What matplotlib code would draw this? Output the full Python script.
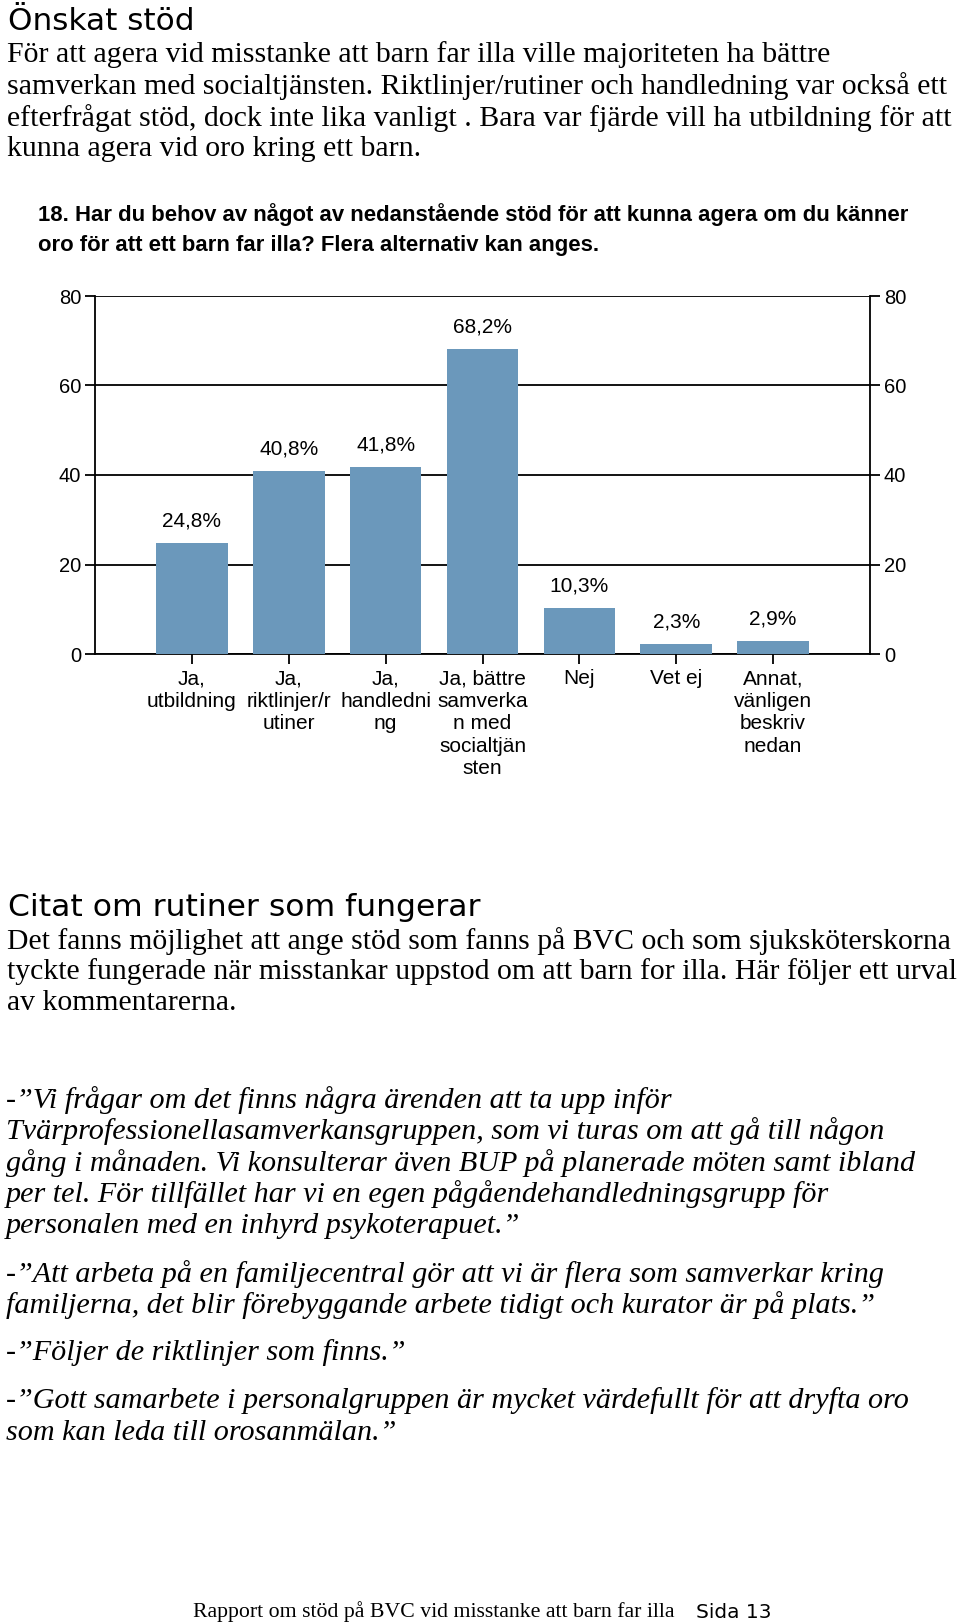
import matplotlib
matplotlib.use("Agg")
import matplotlib.pyplot as plt

# chart data
categories = ["Ja,\nutbildning", "Ja,\nriktlinjer/r\nutiner", "Ja,\nhandledni\nng",
              "Ja, bättre\nsamverka\nn med\nsocialtjän\nsten", "Nej", "Vet ej",
              "Annat,\nvänligen\nbeskriv\nnedan"]
values = [24.8, 40.8, 41.8, 68.2, 10.3, 2.3, 2.9]
value_labels = ["24,8%", "40,8%", "41,8%", "68,2%", "10,3%", "2,3%", "2,9%"]
yticks = [0, 20, 40, 60, 80]

heading1 = "Önskat stöd"
body1 = ["För att agera vid misstanke att barn far illa ville majoriteten ha bättre",
         "samverkan med socialtjänsten. Riktlinjer/rutiner och handledning var också ett",
         "efterfrågat stöd, dock inte lika vanligt . Bara var fjärde vill ha utbildning för att",
         "kunna agera vid oro kring ett barn."]
chart_title = ["18. Har du behov av något av nedanstående stöd för att kunna agera om du känner",
               "oro för att ett barn far illa? Flera alternativ kan anges."]
heading2 = "Citat om rutiner som fungerar"
body2 = ["Det fanns möjlighet att ange stöd som fanns på BVC och som sjuksköterskorna",
         "tyckte fungerade när misstankar uppstod om att barn for illa. Här följer ett urval",
         "av kommentarerna."]
quotes = [
    ["-”Vi frågar om det finns några ärenden att ta upp inför",
     "Tvärprofessionellasamverkansgruppen, som vi turas om att gå till någon",
     "gång i månaden. Vi konsulterar även BUP på planerade möten samt ibland",
     "per tel. För tillfället har vi en egen pågåendehandledningsgrupp för",
     "personalen med en inhyrd psykoterapuet.”"],
    ["-”Att arbeta på en familjecentral gör att vi är flera som samverkar kring",
     "familjerna, det blir förebyggande arbete tidigt och kurator är på plats.”"],
    ["-”Följer de riktlinjer som finns.”"],
    ["-”Gott samarbete i personalgruppen är mycket värdefullt för att dryfta oro",
     "som kan leda till orosanmälan.”"],
]
footer = "Rapport om stöd på BVC vid misstanke att barn far illa"
page = "Sida 13"

W, H = 960, 1623
fig = plt.figure(figsize=(W / 100, H / 100), dpi=100)

narrow = ["Liberation Sans Narrow", "Liberation Sans"]
serif = ["Liberation Serif", "DejaVu Serif"]
head = ["DejaVu Sans"]

def put(x, y, s, **kw):
    # x, y in pixels from top-left
    fig.text(x / W, 1 - y / H, s, va="center", ha=kw.pop("ha", "left"), **kw)

put(8, 22, heading1, family=head, fontsize=22.4)
for i, line in enumerate(body1):
    put(7, 55 + i * 31.3, line, family=serif, fontsize=21.5)

for i, line in enumerate(chart_title):
    put(38, 215 + i * 30, line, family=narrow, fontsize=15.9, weight="bold")

put(8, 907, heading2, family=head, fontsize=22.6)
for i, line in enumerate(body2):
    put(7, 941 + i * 31, line, family=serif, fontsize=21.4)

qy = [1100, 1274, 1353, 1401]
for q, y0 in zip(quotes, qy):
    for i, line in enumerate(q):
        put(6, y0 + i * 31.5, line, family=serif, fontsize=21.7, style="italic")

put(193, 1612, footer, family=serif, fontsize=15.7)
put(696, 1612, page, family=head, fontsize=14.5)

# bar chart
ax = fig.add_axes([95 / W, 1 - 654 / H, 775 / W, 358 / H])
x = list(range(1, len(values) + 1))
ax.bar(x, values, width=0.74, color="#6b98bb", zorder=3)
for xi, v, lab in zip(x, values, value_labels):
    ax.annotate(lab, (xi, v), xytext=(0, 22), textcoords="offset pixels",
                ha="center", va="center", family=narrow, fontsize=15)

ax.set_xlim(0, 8)
ax.set_ylim(0, 80)
ax.set_yticks(yticks)
ax.yaxis.grid(True, color="black", lw=1.3, zorder=0)
ax.set_axisbelow(True)
ax.spines["top"].set_visible(False)
for s in ["left", "right", "bottom"]:
    ax.spines[s].set_linewidth(1.3)
ax.tick_params(axis="y", which="both", left=True, right=True, labelleft=True,
               labelright=True, direction="out", length=7, width=1.3,
               labelsize=14.5, pad=3)
ax.set_xticks(x)
ax.set_xticklabels(categories, family=narrow, fontsize=15, linespacing=1.23)
ax.tick_params(axis="x", direction="out", length=7, width=1.3, pad=4)
for lab in ax.get_yticklabels():
    lab.set_family(narrow)

fig.savefig("out.png", dpi=100)
